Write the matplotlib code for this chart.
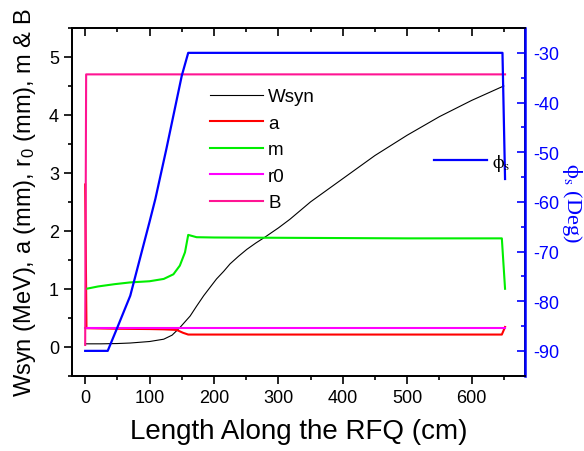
import matplotlib
matplotlib.use('Agg')
import matplotlib.pyplot as plt
from matplotlib.ticker import MultipleLocator
from matplotlib.font_manager import FontProperties

plt.rcParams['font.family'] = ['Liberation Sans', 'DejaVu Sans']
plt.rcParams['axes.unicode_minus'] = False

# Wsyn (MeV) along the RFQ
wsyn_x = [0, 25, 50, 70, 100, 122, 135, 147, 155, 163, 173, 184, 195, 204, 215, 225,
          238, 251, 265, 279, 300, 318, 350, 400, 450, 500, 550, 600, 650]
wsyn = [0.05, 0.05, 0.055, 0.064, 0.09, 0.13, 0.2, 0.33, 0.43, 0.53, 0.7, 0.88, 1.04,
        1.17, 1.3, 1.43, 1.56, 1.68, 1.79, 1.89, 2.05, 2.2, 2.5, 2.9, 3.3, 3.65, 3.97,
        4.25, 4.5]

# aperture a (mm)
a_x = [0, 2, 50, 100, 122, 142, 152, 160, 647, 652]
a_val = [2.8, 0.32, 0.31, 0.305, 0.3, 0.29, 0.24, 0.21, 0.21, 0.34]

# modulation m
m_x = [2, 20, 46, 70, 100, 122, 137, 147, 155, 160, 173, 200, 300, 400, 500, 600,
       647, 652]
m_val = [1.0, 1.04, 1.08, 1.11, 1.13, 1.17, 1.25, 1.4, 1.63, 1.93, 1.89, 1.885, 1.88,
         1.875, 1.87, 1.87, 1.87, 1.0]

# r0 (mm)
r0_x = [0, 652]
r0_val = [0.33, 0.33]

# focusing strength B
b_x = [0, 1.5, 652]
b_val = [0.03, 4.7, 4.7]

# synchronous phase (deg)
phi_x = [0, 35, 49, 70, 100, 109, 126, 150, 160, 648, 652]
phi_val = [-90, -90, -85.6, -78.9, -64, -59.4, -49.4, -34.6, -30, -30, -55.4]

BLUE = '#0000FF'

fig = plt.figure(figsize=(5.84, 4.52), dpi=100)
ax = fig.add_axes([0.1238, 0.1666, 0.7752, 0.7692])
ax2 = ax.twinx()

l_w, = ax.plot(wsyn_x, wsyn, color='black', lw=0.8, label='Wsyn')
l_a, = ax.plot(a_x, a_val, color='#FF0000', lw=1.5, label='a')
l_m, = ax.plot(m_x, m_val, color='#00EE00', lw=1.5, label='m')
l_r, = ax.plot(r0_x, r0_val, color='#FF00FF', lw=1.5, label='r0')
l_b, = ax.plot(b_x, b_val, color='#FF1493', lw=1.5, label='B')
l_p, = ax2.plot(phi_x, phi_val, color=BLUE, lw=1.6, label=r'$\mathrm{\phi_s}$')

ax.set_xlim(-20, 683)
ax.set_ylim(-0.5, 5.5)
ax2.set_ylim(-95, -25)

ax.xaxis.set_major_locator(MultipleLocator(100))
ax.xaxis.set_minor_locator(MultipleLocator(50))
ax.yaxis.set_major_locator(MultipleLocator(1))
ax.yaxis.set_minor_locator(MultipleLocator(0.5))
ax2.yaxis.set_major_locator(MultipleLocator(10))
ax2.yaxis.set_minor_locator(MultipleLocator(5))

# bottom/left ticks point out, top/right ticks point in
ax.tick_params(axis='both', which='both', direction='out', labelsize=13,
               top=False, right=False, width=1.2)
ax.tick_params(which='major', length=6)
ax.tick_params(which='minor', length=3)
ax2.xaxis.set_visible(True)
ax2.tick_params(axis='x', which='both', direction='in', top=True, bottom=False,
                labeltop=False, labelbottom=False, width=1.2)
ax2.tick_params(axis='x', which='major', length=6)
ax2.tick_params(axis='x', which='minor', length=3)
ax2.tick_params(axis='y', which='both', direction='in', colors=BLUE,
                labelsize=13, width=1.2, pad=6)
ax2.tick_params(axis='y', which='major', length=6)
ax2.tick_params(axis='y', which='minor', length=3)

for sp in ax.spines.values():
    sp.set_linewidth(1.3)
for name in ['left', 'top', 'bottom']:
    ax2.spines[name].set_linewidth(1.3)
ax2.spines['right'].set_color(BLUE)
ax2.spines['right'].set_linewidth(1.8)

ax.set_xlabel('Length Along the RFQ (cm)', fontsize=20, labelpad=9)
ax.set_ylabel(r'Wsyn (MeV), a (mm), $\mathregular{r_0}$ (mm), m & B', fontsize=17,
              labelpad=8)
ax2.set_ylabel(r'$\mathrm{\phi_s}$ (Deg)', fontsize=16, color=BLUE, rotation=270,
               labelpad=18, family='Liberation Serif', math_fontfamily='stix')

ax.legend(handles=[l_w, l_a, l_m, l_r, l_b], loc='upper left',
          bbox_to_anchor=(210 / 584, 1 - 89 / 452), bbox_transform=fig.transFigure,
          frameon=False, fontsize=13.5, handlelength=2.8, handletextpad=0.3,
          labelspacing=0.5, borderpad=0, borderaxespad=0)
phi_prop = FontProperties(family='Liberation Serif', size=13.5, math_fontfamily='stix')
ax2.legend(handles=[l_p], loc='upper left',
           bbox_to_anchor=(434 / 584, 1 - 153 / 452), bbox_transform=fig.transFigure,
           frameon=False, prop=phi_prop, handlelength=2.8, handletextpad=0.3,
           borderpad=0, borderaxespad=0)

fig.savefig('out.png', dpi=100)
